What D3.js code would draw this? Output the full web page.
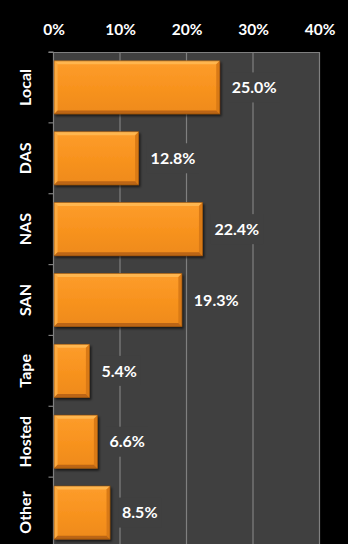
<!DOCTYPE html>
<html>
<head>
<meta charset="utf-8">
<script src="https://cdn.jsdelivr.net/npm/d3@7"></script>
<style>
  html, body { margin: 0; padding: 0; background: #000; }
  svg { display: block; }
</style>
</head>
<body>
<script>
// Storage location shares
const categories = ["Local", "DAS", "NAS", "SAN", "Tape", "Hosted", "Other"];
const shares = [25.0, 12.8, 22.4, 19.3, 5.4, 6.6, 8.5];
const tickValues = [0, 10, 20, 30, 40];

const W = 348, H = 544;
const plotL = 53.5, plotR = 319.5, plotT = 52, plotB = 548;
const font = "Lato, 'Open Sans', sans-serif";
const bev = 3.5;

const svg = d3.select("body").append("svg")
  .attr("width", W).attr("height", H)
  .style("background", "#000");

const x = d3.scaleLinear().domain([0, 40]).range([plotL, plotR]);
const y = d3.scaleBand().domain(categories).range([plotT, plotB])
  .paddingInner(0.25).paddingOuter(0.125);

const defs = svg.append("defs");
const g = defs.append("linearGradient").attr("id", "barFill")
  .attr("x1", 0).attr("y1", 0).attr("x2", 0).attr("y2", 1);
[[0, "#fd9d2c"], [0.5, "#f8931f"], [1, "#ee8a1c"]].forEach(([o, c]) =>
  g.append("stop").attr("offset", o).attr("stop-color", c));
const sh = defs.append("filter").attr("id", "shadow")
  .attr("x", "-10%").attr("y", "-10%").attr("width", "130%").attr("height", "140%");
sh.append("feDropShadow").attr("dx", 1.5).attr("dy", 2).attr("stdDeviation", 1.2)
  .attr("flood-color", "#000").attr("flood-opacity", 0.6);

// Plot area
svg.append("rect")
  .attr("x", plotL).attr("y", plotT)
  .attr("width", plotR - plotL).attr("height", H - plotT)
  .attr("fill", "#404040");

// Vertical gridlines
svg.append("g").selectAll("line").data(tickValues.slice(1)).join("line")
  .attr("x1", d => x(d)).attr("x2", d => x(d))
  .attr("y1", plotT).attr("y2", H)
  .attr("stroke", "#808080").attr("stroke-width", 1.2);

// Top axis
const xAxis = svg.append("g")
  .attr("transform", `translate(0,${plotT})`)
  .call(d3.axisTop(x).tickValues(tickValues).tickFormat(d => d + "%").tickSize(0).tickPadding(17));
xAxis.select(".domain").attr("stroke", "#808080").attr("stroke-width", 1.2)
  .attr("d", `M${plotL - 5},0.5H${plotR}`);
xAxis.selectAll("text").attr("fill", "#fff")
  .style("font-family", font).style("font-weight", "bold").style("font-size", "15.5px");

// Left axis with tick marks on category boundaries
const boundaries = categories.map((c, i) => plotT + i * y.step());
svg.append("line")
  .attr("x1", plotL).attr("x2", plotL).attr("y1", plotT).attr("y2", H)
  .attr("stroke", "#808080").attr("stroke-width", 1.2);
svg.append("g").selectAll("line").data(boundaries).join("line")
  .attr("x1", plotL - 5).attr("x2", plotL)
  .attr("y1", d => d).attr("y2", d => d)
  .attr("stroke", "#808080").attr("stroke-width", 1.2);

// Category labels, rotated
svg.append("g").selectAll("text").data(categories).join("text")
  .attr("transform", d => `translate(31,${y(d) + y.bandwidth() / 2}) rotate(-90)`)
  .attr("text-anchor", "middle")
  .attr("fill", "#fff")
  .style("font-family", font).style("font-weight", "bold").style("font-size", "16px")
  .text(d => d);

// Bars with bevelled edges
const bars = svg.append("g").selectAll("g").data(categories).join("g")
  .attr("filter", "url(#shadow)");
const geom = (d, i) => {
  const x0 = plotL + 0.6, x1 = x(shares[i]), y0 = y(d), y1 = y(d) + y.bandwidth();
  return { x0, x1, y0, y1 };
};
bars.append("rect")
  .attr("x", (d, i) => geom(d, i).x0).attr("y", d => y(d))
  .attr("width", (d, i) => geom(d, i).x1 - geom(d, i).x0).attr("height", y.bandwidth())
  .attr("fill", "url(#barFill)");
const facet = (pts) => "M" + pts.map(p => p.join(",")).join("L") + "Z";
// top bevel
bars.append("path").attr("fill", "#ffb64f").attr("d", (d, i) => {
  const b = geom(d, i);
  return facet([[b.x0, b.y0], [b.x1, b.y0], [b.x1 - bev, b.y0 + bev], [b.x0 + bev, b.y0 + bev]]);
});
// left bevel
bars.append("path").attr("fill", "#fcaa40").attr("d", (d, i) => {
  const b = geom(d, i);
  return facet([[b.x0, b.y0], [b.x0 + bev, b.y0 + bev], [b.x0 + bev, b.y1 - bev], [b.x0, b.y1]]);
});
// right bevel
bars.append("path").attr("fill", "#d97a18").attr("d", (d, i) => {
  const b = geom(d, i);
  return facet([[b.x1, b.y0], [b.x1, b.y1], [b.x1 - bev, b.y1 - bev], [b.x1 - bev, b.y0 + bev]]);
});
// bottom bevel
bars.append("path").attr("fill", "#bb6512").attr("d", (d, i) => {
  const b = geom(d, i);
  return facet([[b.x0, b.y1], [b.x0 + bev, b.y1 - bev], [b.x1 - bev, b.y1 - bev], [b.x1, b.y1]]);
});
bars.append("rect")
  .attr("x", (d, i) => geom(d, i).x0).attr("y", d => y(d))
  .attr("width", (d, i) => geom(d, i).x1 - geom(d, i).x0).attr("height", y.bandwidth())
  .attr("fill", "none").attr("stroke", "#8a4a0c").attr("stroke-opacity", 0.7).attr("stroke-width", 0.8);

// Value labels with plot-coloured backing
const labels = svg.append("g").selectAll("g").data(categories).join("g")
  .attr("transform", (d, i) => `translate(${x(shares[i]) + 12},${y(d) + y.bandwidth() / 2})`);
labels.append("text")
  .attr("dy", "0.36em")
  .attr("fill", "#fff")
  .style("font-family", font).style("font-weight", "bold").style("font-size", "16px")
  .text((d, i) => shares[i].toFixed(1) + "%");
labels.insert("rect", "text")
  .each(function () {
    const bb = this.parentNode.querySelector("text").getBBox();
    d3.select(this).attr("x", bb.x - 4).attr("y", -15).attr("width", bb.width + 8).attr("height", 30);
  })
  .attr("fill", "#404040");
</script>
</body>
</html>
